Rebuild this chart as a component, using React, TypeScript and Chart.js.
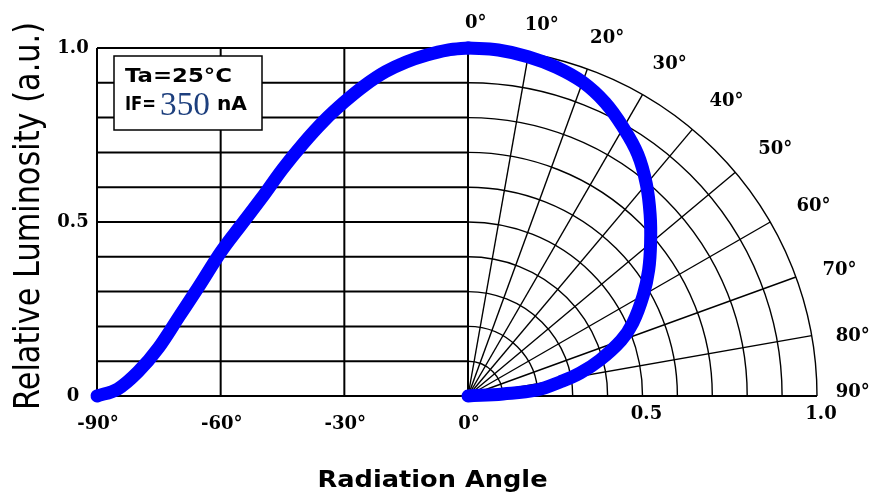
import React, { useEffect, useRef } from "react";
import { Chart, registerables } from "chart.js";

Chart.register(...registerables);

// ---- data ----
// Left: cartesian relative luminosity vs angle (deg)
const LEFT_ANGLES = [-90, -85, -80, -75, -70, -65, -60, -55, -50, -45, -40, -35, -30, -25, -20, -15, -10, -5, 0];
const LEFT_VALUES = [0, 0.02, 0.07, 0.14, 0.23, 0.32, 0.413, 0.492, 0.57, 0.652, 0.725, 0.79, 0.845, 0.893, 0.932, 0.96, 0.98, 0.994, 1.0];

// Right: polar relative luminosity vs angle (deg)
const POLAR_ANGLES = [0, 5, 10, 15, 20, 25, 30, 35, 40, 45, 50, 55, 60, 66, 70, 74.7, 78.4, 81.3, 85, 86.7, 90];
const POLAR_VALUES = [1.0, 0.998, 0.99, 0.978, 0.96, 0.93, 0.89, 0.848, 0.795, 0.738, 0.683, 0.632, 0.58, 0.517, 0.467, 0.392, 0.328, 0.267, 0.1985, 0.1005, 0];

// Axis / grid definitions
const ANGLE_TICKS = [-90, -60, -30, 0];
const ANGLE_TICK_LABELS = ["-90°", "-60°", "-30°", "0°"];
const R_TICKS = [0.5, 1.0];
const R_TICK_LABELS = ["0.5", "1.0"];
const Y_TICKS = [0, 0.5, 1.0];
const Y_TICK_LABELS = ["0", "0.5", "1.0"];
const H_GRID = [0.1, 0.2, 0.3, 0.4, 0.5, 0.6, 0.7, 0.8, 0.9, 1.0];
const RINGS = [0.1, 0.2, 0.3, 0.4, 0.5, 0.6, 0.7, 0.8, 0.9, 1.0];
const SPOKES = [0, 10, 20, 30, 40, 50, 60, 70, 80, 90];
const SPOKE_LABELS = ["0°", "10°", "20°", "30°", "40°", "50°", "60°", "70°", "80°", "90°"];

const X_TITLE = "Radiation Angle";
const Y_TITLE = "Relative Luminosity (a.u.)";
const NOTE_LINE1 = "Ta=25°C";
const NOTE_PREFIX = "IF=";
const NOTE_VALUE = "350";
const NOTE_UNIT = "nA";

// polar radius expressed in angle units of the left x scale (layout ratio)
const R_IN_DEG = 84.66;

const TICK_FONT = 'bold 18px "DejaVu Serif"';

function fitText(ctx: CanvasRenderingContext2D, text: string, x: number, y: number, width: number, align: "left" | "center") {
  const w = ctx.measureText(text).width;
  const s = width / w;
  ctx.save();
  ctx.translate(x, y);
  ctx.scale(s, 1);
  ctx.textAlign = align;
  ctx.fillText(text, 0, 0);
  ctx.restore();
}

const decor = {
  id: "decor",
  beforeDatasetsDraw(chart: any) {
    const { ctx, scales } = chart;
    const x = scales.x, xr = scales.xr, y = scales.y;
    const line = (x1: number, y1: number, x2: number, y2: number) => {
      ctx.beginPath();
      ctx.moveTo(x1, y1);
      ctx.lineTo(x2, y2);
      ctx.stroke();
    };
    ctx.save();
    ctx.strokeStyle = "#000";
    ctx.lineWidth = 2;
    const xl = x.getPixelForValue(-90);
    const x0 = x.getPixelForValue(0);
    for (const v of H_GRID) {
      const py = y.getPixelForValue(v);
      line(xl, py, x0, py);
    }
    for (const a of ANGLE_TICKS) {
      const px = x.getPixelForValue(a);
      line(px, y.getPixelForValue(0), px, y.getPixelForValue(1));
    }
    // baseline extended through polar part
    line(xl, y.getPixelForValue(0), xr.getPixelForValue(1), y.getPixelForValue(0));

    // polar grid
    const cx = xr.getPixelForValue(0);
    const cy = y.getPixelForValue(0);
    const kx = xr.getPixelForValue(1) - cx;
    const ky = cy - y.getPixelForValue(1);
    ctx.lineWidth = 1.4;
    for (const r of RINGS) {
      ctx.beginPath();
      ctx.ellipse(cx, cy, kx * r, ky * r, 0, -Math.PI / 2, 0);
      ctx.stroke();
    }
    for (const a of SPOKES) {
      const t = (a * Math.PI) / 180;
      line(cx, cy, cx + kx * Math.sin(t), cy - ky * Math.cos(t));
    }
    ctx.restore();
  },
  afterDatasetsDraw(chart: any) {
    const { ctx, scales, chartArea } = chart;
    const x = scales.x, xr = scales.xr, y = scales.y;
    ctx.save();
    ctx.fillStyle = "#000";
    ctx.font = TICK_FONT;
    ctx.textBaseline = "middle";
    ctx.textAlign = "center";
    // y ticks
    Y_TICKS.forEach((v, i) => {
      ctx.fillText(Y_TICK_LABELS[i], chartArea.left - 24, y.getPixelForValue(v));
    });
    // x angle ticks
    ANGLE_TICKS.forEach((v, i) => {
      ctx.fillText(ANGLE_TICK_LABELS[i], x.getPixelForValue(v) + 1, chartArea.bottom + 28);
    });
    // r ticks
    R_TICKS.forEach((v, i) => {
      ctx.fillText(R_TICK_LABELS[i], xr.getPixelForValue(v) + 4, chartArea.bottom + 18);
    });
    // polar angle labels
    const cx = xr.getPixelForValue(0);
    const cy = y.getPixelForValue(0);
    const kx = xr.getPixelForValue(1) - cx;
    const ky = cy - y.getPixelForValue(1);
    SPOKES.forEach((a, i) => {
      const t = ((a + (a >= 90 ? -0.6 : 1.2)) * Math.PI) / 180;
      const rr = 1.07 + 0.06 * Math.sin((a * Math.PI) / 110);
      ctx.fillText(SPOKE_LABELS[i], cx + kx * rr * Math.sin(t), cy - ky * rr * Math.cos(t));
    });

    // x title
    ctx.font = 'bold 23px "DejaVu Sans"';
    ctx.textBaseline = "alphabetic";
    fitText(ctx, X_TITLE, chartArea.left + (chartArea.right - chartArea.left) * 0.466, chartArea.bottom + 91, 230, "center");

    // y title
    ctx.save();
    ctx.translate(chartArea.left - 58, (chartArea.top + chartArea.bottom) / 2 - 6);
    ctx.rotate(-Math.PI / 2);
    ctx.font = '35px "DejaVu Sans"';
    ctx.textBaseline = "alphabetic";
    fitText(ctx, Y_TITLE, 0, 0, 388, "center");
    ctx.restore();

    // note box
    const bx = chartArea.left + 17;
    const by = chartArea.top + 8;
    const bw = 148;
    const bh = 74;
    ctx.fillStyle = "#fff";
    ctx.fillRect(bx, by, bw, bh);
    ctx.strokeStyle = "#000";
    ctx.lineWidth = 1.5;
    ctx.strokeRect(bx, by, bw, bh);
    ctx.fillStyle = "#000";
    ctx.textBaseline = "middle";
    ctx.font = 'bold 19px "DejaVu Sans"';
    fitText(ctx, NOTE_LINE1, bx + 11, by + 21, 107, "left");
    fitText(ctx, NOTE_PREFIX, bx + 11, by + 49, 31, "left");
    ctx.font = '34px "Liberation Serif"';
    ctx.fillStyle = "#1d3f7d";
    fitText(ctx, NOTE_VALUE, bx + 46, by + 50, 50, "left");
    ctx.fillStyle = "#000";
    ctx.font = 'bold 19px "DejaVu Sans"';
    fitText(ctx, NOTE_UNIT, bx + 103, by + 49, 30, "left");
    ctx.restore();
  },
};

export default function App() {
  const ref = useRef<HTMLCanvasElement>(null);
  useEffect(() => {
    const leftData = LEFT_ANGLES.map((a, i) => ({ x: a, y: LEFT_VALUES[i] }));
    const polarData = POLAR_ANGLES.map((a, i) => {
      const t = (a * Math.PI) / 180;
      return { x: POLAR_VALUES[i] * Math.sin(t), y: POLAR_VALUES[i] * Math.cos(t) };
    });
    const common = {
      showLine: true,
      borderColor: "#0000ff",
      backgroundColor: "#0000ff",
      borderWidth: 13,
      borderCapStyle: "round",
      borderJoinStyle: "round",
      pointRadius: 0,
      pointHoverRadius: 0,
      fill: false,
      clip: false,
      capBezierPoints: false,
    };
    const chart = new Chart(ref.current as HTMLCanvasElement, {
      type: "scatter",
      data: {
        datasets: [
          { ...common, label: "left", data: leftData, xAxisID: "x", yAxisID: "y", cubicInterpolationMode: "monotone", tension: 0.4 } as any,
          { ...common, label: "polar", data: polarData, xAxisID: "xr", yAxisID: "y", tension: 0.4 } as any,
        ],
      },
      options: {
        responsive: false,
        animation: false,
        layout: { padding: { left: 97, right: 55, top: 48, bottom: 102 } },
        elements: { line: { capBezierPoints: false, tension: 0.4 } },
        plugins: { legend: { display: false }, tooltip: { enabled: false }, title: { display: false } },
        scales: {
          x: { type: "linear", display: false, min: -90, max: R_IN_DEG },
          xr: { type: "linear", display: false, min: -90 / R_IN_DEG, max: 1 },
          y: { type: "linear", display: false, min: 0, max: 1 },
        },
      },
      plugins: [decor],
    } as any);
    return () => chart.destroy();
  }, []);
  return (
    <div style={{ position: "absolute", left: 0, top: 0, width: 872, height: 498, background: "#fff" }}>
      <canvas ref={ref} width={872} height={498} style={{ display: "block", width: 872, height: 498 }} />
    </div>
  );
}
